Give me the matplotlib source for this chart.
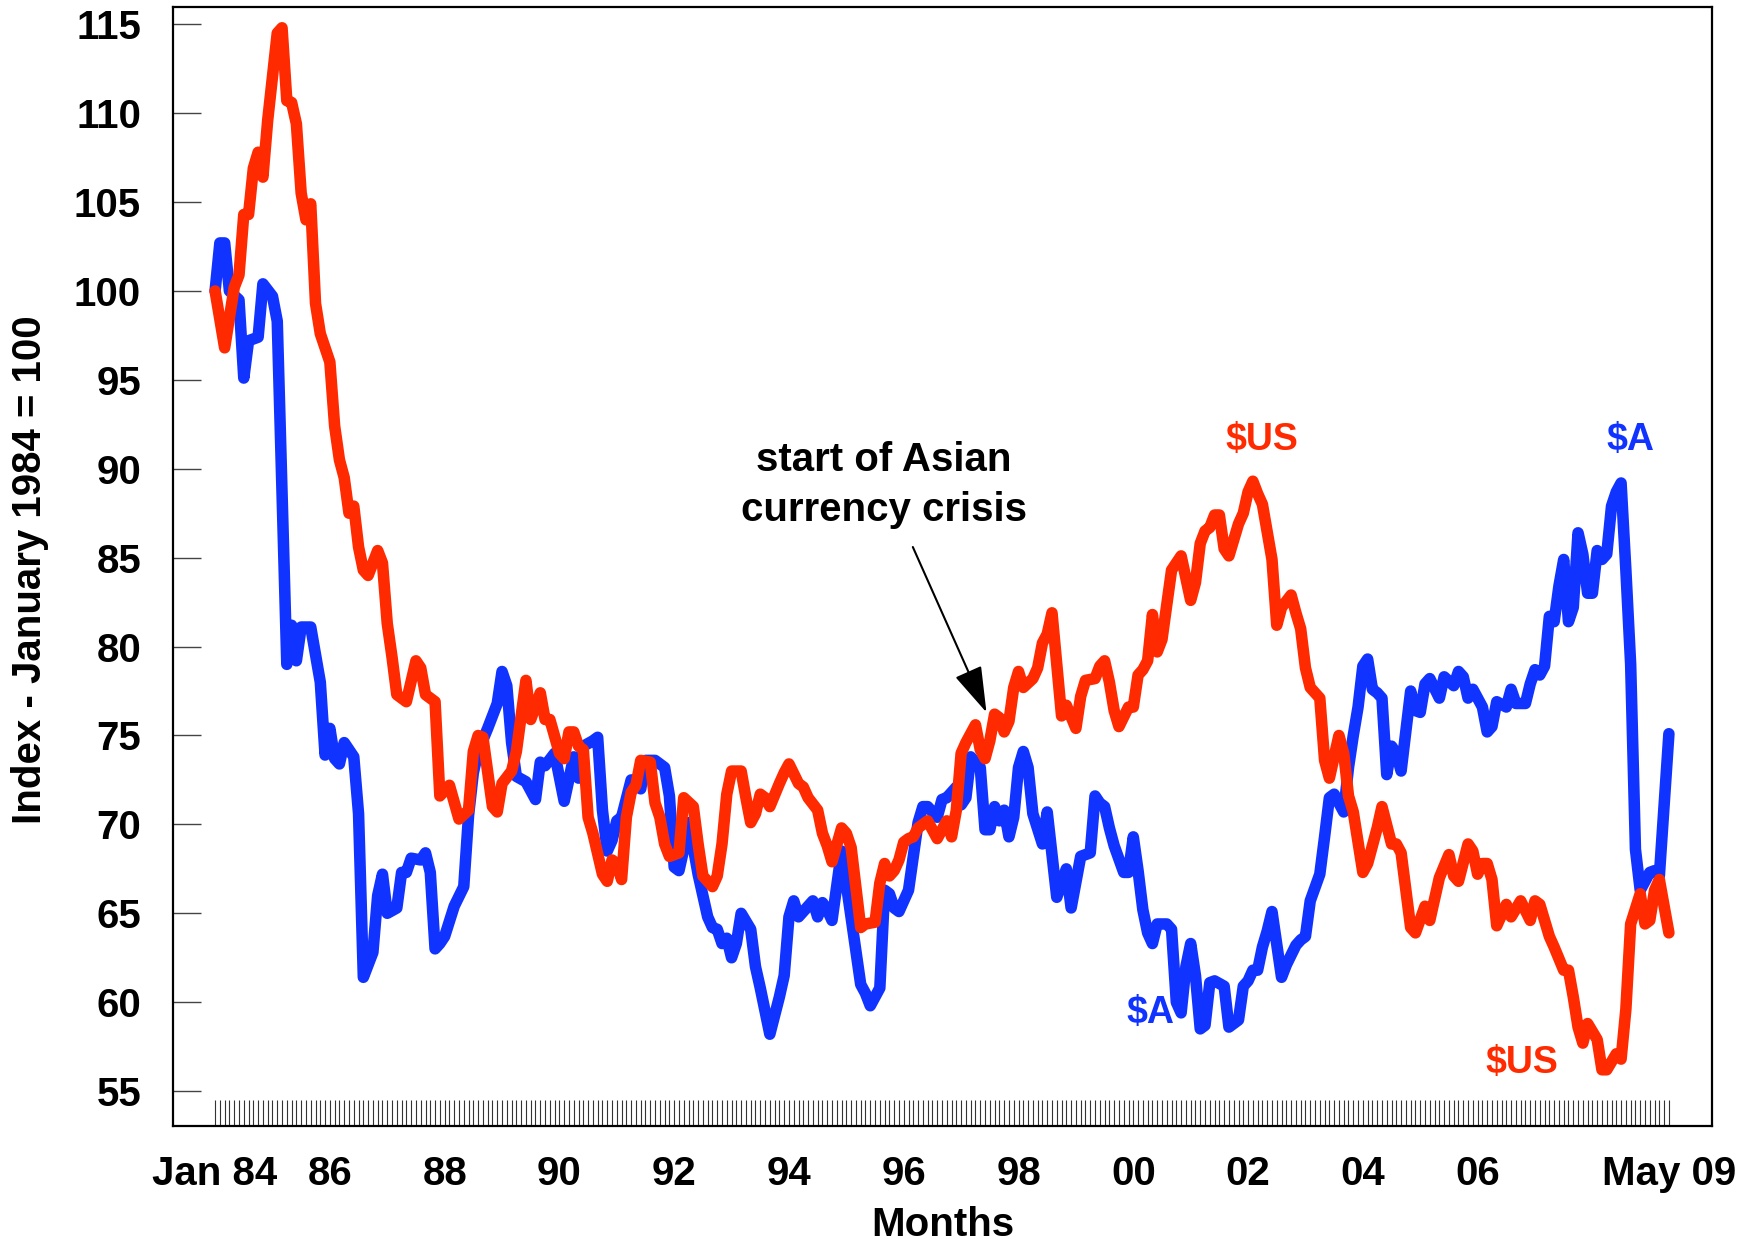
import matplotlib
matplotlib.use('Agg')
import matplotlib.pyplot as plt
import numpy as np

plt.rcParams['font.family'] = ['Liberation Sans', 'DejaVu Sans']
plt.rcParams['font.weight'] = 'bold'

# month index 0 = Jan 1984, 304 = May 2009 (turning points)
aud_months = [0, 1, 2, 3, 5, 6, 7, 9, 10, 12, 13, 15, 16, 17, 18, 20, 22, 23, 24, 25,
              26, 27, 29, 30, 31, 33, 34, 35, 36, 38, 39, 40, 41, 43, 44, 45, 46, 47, 48, 50,
              52, 53, 54, 55, 57, 59, 60, 61, 62, 63, 65, 67, 68, 69, 71, 73, 75, 76, 77, 79,
              80, 81, 82, 83, 84, 85, 87, 88, 89, 90, 92, 94, 95, 96, 97, 98, 99, 100, 101, 103,
              104, 105, 106, 107, 108, 109, 110, 112, 113, 114, 116, 118, 119, 120, 121, 122, 125, 126, 127, 128,
              129, 131, 135, 136, 137, 139, 140, 141, 142, 143, 145, 146, 147, 148, 149, 151, 152, 153, 155, 156,
              157, 158, 160, 161, 162, 163, 164, 165, 166, 167, 168, 169, 170, 171, 173, 174, 176, 178, 179, 181,
              183, 184, 185, 186, 187, 188, 190, 191, 192, 193, 194, 195, 196, 197, 199, 200, 201, 202, 203, 204,
              205, 206, 207, 208, 209, 211, 212, 214, 215, 216, 217, 218, 219, 220, 221, 223, 224, 226, 227, 228,
              229, 231, 232, 233, 234, 236, 237, 238, 239, 240, 241, 242, 243, 244, 245, 246, 247, 248, 250, 251,
              252, 253, 254, 256, 257, 259, 260, 261, 262, 263, 265, 266, 267, 268, 270, 271, 272, 274, 275, 276,
              277, 278, 279, 280, 281, 282, 283, 284, 285, 286, 287, 288, 289, 290, 291, 292, 293, 294, 295, 296,
              297, 298, 300, 301, 302, 304]
aud_index = [100.0, 102.7, 102.7, 100.0, 99.5, 95.1, 97.2, 97.4, 100.4, 99.7, 98.3, 79.0, 81.2, 79.2, 81.1, 81.1, 78.0, 73.9, 75.4, 73.7,
             73.4, 74.6, 73.8, 70.6, 61.4, 62.8, 66.0, 67.2, 65.0, 65.3, 67.3, 67.3, 68.1, 68.0, 68.4, 67.3, 63.0, 63.3, 63.7, 65.4,
             66.5, 70.5, 72.9, 74.1, 75.4, 76.8, 78.6, 77.8, 74.6, 72.7, 72.4, 71.4, 73.5, 73.3, 74.0, 71.3, 73.8, 72.6, 74.4, 74.7,
             74.9, 70.8, 68.5, 69.1, 70.2, 70.4, 72.5, 72.5, 72.0, 73.6, 73.6, 73.2, 71.6, 67.6, 67.4, 68.6, 70.1, 68.7, 67.2, 64.8,
             64.2, 64.1, 63.3, 63.6, 62.5, 63.3, 65.0, 64.1, 62.0, 60.8, 58.2, 60.3, 61.5, 64.8, 65.7, 64.8, 65.7, 64.8, 65.6, 65.2,
             64.6, 68.5, 61.0, 60.5, 59.8, 60.8, 66.3, 66.1, 65.3, 65.1, 66.3, 68.2, 70.1, 71.0, 71.0, 70.4, 71.4, 71.5, 72.1, 71.1,
             71.5, 73.8, 73.2, 69.7, 69.7, 71.0, 70.2, 70.8, 69.3, 70.4, 73.2, 74.1, 73.2, 70.6, 68.9, 70.7, 65.9, 67.5, 65.3, 68.2,
             68.4, 71.6, 71.2, 71.0, 69.8, 68.8, 67.3, 67.3, 69.3, 67.4, 65.2, 63.9, 63.3, 64.4, 64.4, 64.1, 60.0, 59.4, 62.0, 63.3,
             61.5, 58.5, 58.7, 61.1, 61.2, 60.9, 58.6, 59.0, 60.9, 61.2, 61.8, 61.8, 63.1, 64.0, 65.1, 61.4, 62.1, 63.2, 63.5, 63.7,
             65.7, 67.2, 69.3, 71.5, 71.7, 70.7, 73.2, 75.0, 76.6, 78.9, 79.3, 77.6, 77.4, 77.1, 72.8, 74.4, 74.0, 73.0, 77.5, 76.4,
             76.3, 77.9, 78.2, 77.1, 78.3, 77.8, 78.6, 78.3, 77.1, 77.6, 76.6, 75.2, 75.5, 76.9, 76.6, 77.6, 76.8, 76.8, 77.9, 78.7,
             78.4, 78.9, 81.7, 81.4, 83.4, 84.9, 81.4, 82.2, 86.4, 85.2, 83.0, 83.0, 85.4, 84.9, 85.2, 87.9, 88.7, 89.2, 84.3, 79.0,
             68.6, 66.3, 67.3, 67.4, 67.1, 75.1]

usd_months = [0, 2, 4, 5, 6, 7, 8, 9, 10, 11, 13, 14, 15, 16, 17, 18, 19, 20, 21, 22,
              24, 25, 26, 27, 28, 29, 30, 31, 32, 34, 35, 36, 37, 38, 40, 42, 43, 44, 46, 47,
              49, 51, 53, 54, 55, 56, 58, 59, 60, 62, 63, 65, 66, 68, 69, 70, 72, 73, 74, 75,
              76, 77, 78, 79, 81, 82, 83, 84, 85, 86, 87, 88, 89, 91, 92, 93, 94, 95, 97, 98,
              100, 101, 102, 104, 105, 106, 107, 108, 110, 111, 112, 113, 114, 115, 116, 118, 119, 120, 122, 123,
              124, 126, 127, 128, 129, 131, 132, 133, 135, 136, 138, 139, 140, 141, 142, 143, 144, 145, 146, 147,
              149, 151, 153, 154, 155, 156, 157, 159, 160, 161, 162, 163, 164, 165, 166, 167, 168, 169, 171, 172,
              173, 174, 175, 177, 178, 180, 181, 182, 184, 185, 186, 187, 188, 189, 191, 192, 193, 194, 195, 196,
              197, 198, 200, 202, 204, 205, 206, 207, 208, 209, 210, 211, 212, 213, 214, 215, 216, 217, 218, 219,
              221, 222, 223, 225, 226, 227, 228, 229, 231, 232, 233, 235, 236, 237, 238, 240, 241, 243, 244, 246,
              247, 248, 250, 251, 253, 254, 256, 258, 259, 260, 262, 263, 264, 265, 266, 267, 268, 270, 271, 273,
              275, 276, 277, 278, 279, 280, 282, 283, 284, 285, 286, 287, 289, 290, 291, 293, 294, 295, 296, 298,
              299, 300, 301, 302, 304]
usd_index = [100.0, 96.8, 100.2, 100.9, 104.3, 104.3, 106.9, 107.8, 106.4, 109.6, 114.5, 114.8, 110.7, 110.6, 109.4, 105.5, 104.0, 104.9, 99.3, 97.6,
             96.0, 92.4, 90.5, 89.5, 87.5, 87.9, 85.6, 84.3, 84.0, 85.4, 84.7, 81.3, 79.4, 77.3, 76.9, 79.2, 78.8, 77.3, 76.9, 71.6,
             72.2, 70.3, 70.8, 74.1, 75.0, 74.9, 71.0, 70.7, 72.3, 73.0, 74.1, 78.1, 75.9, 77.4, 75.9, 75.9, 74.0, 73.7, 75.2, 75.2,
             74.4, 74.2, 70.4, 69.5, 67.2, 66.8, 68.0, 67.8, 66.9, 70.4, 71.8, 72.2, 73.6, 73.5, 71.2, 70.4, 68.9, 68.2, 68.4, 71.5,
             71.0, 68.9, 67.1, 66.5, 67.1, 68.9, 71.7, 73.0, 73.0, 71.5, 70.1, 70.6, 71.7, 71.5, 71.0, 72.3, 72.9, 73.4, 72.3, 72.1,
             71.5, 70.8, 69.5, 68.8, 67.9, 69.8, 69.5, 68.7, 64.2, 64.4, 64.5, 66.7, 67.8, 67.1, 67.4, 68.0, 69.0, 69.2, 69.3, 69.8,
             70.2, 69.2, 70.2, 69.3, 70.8, 74.0, 74.6, 75.6, 74.2, 73.7, 74.7, 76.2, 76.0, 75.2, 75.8, 77.7, 78.6, 77.7, 78.2, 78.8,
             80.2, 80.7, 81.9, 76.1, 76.7, 75.4, 77.2, 78.1, 78.2, 78.9, 79.2, 78.0, 76.4, 75.5, 76.6, 76.6, 78.4, 78.7, 79.2, 81.8,
             79.7, 80.4, 84.3, 85.1, 82.6, 83.6, 85.8, 86.5, 86.7, 87.4, 87.4, 85.5, 85.1, 86.0, 86.9, 87.5, 88.7, 89.3, 88.6, 88.0,
             84.9, 81.2, 82.2, 82.9, 81.9, 81.0, 78.8, 77.7, 77.1, 73.6, 72.6, 75.0, 74.0, 71.6, 70.7, 67.3, 67.8, 69.8, 71.0, 68.9,
             68.9, 68.4, 64.2, 63.9, 65.4, 64.6, 67.0, 68.3, 67.1, 66.8, 68.9, 68.5, 67.2, 67.8, 67.8, 66.9, 64.3, 65.5, 64.8, 65.7,
             64.6, 65.7, 65.5, 64.6, 63.7, 63.1, 61.8, 61.8, 60.3, 58.6, 57.7, 58.8, 57.9, 56.2, 56.2, 57.1, 56.8, 59.6, 64.4, 66.1,
             64.4, 64.6, 66.3, 66.9, 63.9]

tick_months = [0, 24, 48, 72, 96, 120, 144, 168, 192, 216, 240, 264, 304]
tick_labels = ['Jan 84', '86', '88', '90', '92', '94', '96', '98', '00', '02', '04', '06', 'May 09']
y_ticks = [55, 60, 65, 70, 75, 80, 85, 90, 95, 100, 105, 110, 115]

c_aud = '#1133ff'
c_usd = '#ff2a00'
fs = 29
lw = 8.3

fig = plt.figure(figsize=(17.51, 12.45), dpi=100)
ax = fig.add_axes([0.0988, 0.0956, 0.8789, 0.8988])

ax.plot(aud_months, aud_index, color=c_aud, linewidth=lw, solid_joinstyle='round', solid_capstyle='round')
ax.plot(usd_months, usd_index, color=c_usd, linewidth=lw, solid_joinstyle='round', solid_capstyle='round')

ax.set_xlim(-8.8, 313.0)
ax.set_ylim(53.04, 115.97)

ax.set_xticks(tick_months)
ax.set_xticklabels(tick_labels)
ax.set_xticks(np.arange(0, 305), minor=True)
ax.set_yticks(y_ticks)

ax.tick_params(axis='x', which='major', direction='in', length=19, width=0.8, color='#333333',
               pad=21, labelsize=fs)
ax.tick_params(axis='x', which='minor', direction='in', length=19, width=0.8, color='#333333')
ax.tick_params(axis='y', which='major', direction='in', length=20, width=1.0, color='#444444',
               pad=23, labelsize=fs)
for lab in ax.get_xticklabels() + ax.get_yticklabels():
    lab.set_fontweight('bold')

for sp in ax.spines.values():
    sp.set_linewidth(1.6)
    sp.set_color('black')

ax.text(-0.093, 0.497, 'Index - January 1984 = 100', transform=ax.transAxes, rotation=90,
        ha='center', va='center', fontsize=fs, fontweight='bold')
ax.text(0.5, -0.0885, 'Months', transform=ax.transAxes, ha='center', va='center',
        fontsize=fs, fontweight='bold')

ax.text(139.9, 89.08, 'start of Asian\ncurrency crisis', ha='center', va='center',
        fontsize=fs, fontweight='bold', linespacing=1.42)
ax.annotate('', xy=(161.3, 76.3), xytext=(145.9, 85.6),
            arrowprops=dict(arrowstyle='-|>,head_length=0.8,head_width=0.25', color='black',
                            lw=1.5, mutation_scale=36, shrinkA=0, shrinkB=0))

ax.text(218.9, 91.6, '$US', color=c_usd, ha='center', va='center', fontsize=27, fontweight='bold')
ax.text(295.9, 91.6, '$A', color=c_aud, ha='center', va='center', fontsize=27, fontweight='bold')
ax.text(195.5, 59.4, '$A', color=c_aud, ha='center', va='center', fontsize=27, fontweight='bold')
ax.text(273.2, 56.6, '$US', color=c_usd, ha='center', va='center', fontsize=27, fontweight='bold')

fig.savefig('out.png', dpi=100)
